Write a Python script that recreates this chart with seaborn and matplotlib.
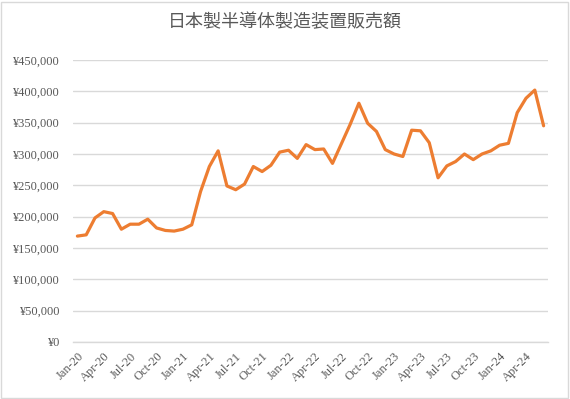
import matplotlib
matplotlib.use("Agg")
import matplotlib.pyplot as plt
import seaborn as sns
import pandas as pd
from matplotlib.ticker import FuncFormatter, FixedLocator
from matplotlib.patches import Rectangle

months = ["Jan", "Feb", "Mar", "Apr", "May", "Jun", "Jul", "Aug", "Sep", "Oct", "Nov", "Dec"]
years = ["20", "21", "22", "23", "24"]
categories = [f"{m}-{y}" for y in years for m in months][:54]

sales = [169000, 171000, 198000, 208000, 205000, 180000, 188000, 188000, 196000, 182000,
         178000, 177000, 180000, 187000, 240000, 280000, 305000, 249000, 243000, 252000,
         280000, 272000, 282000, 303000, 306000, 293000, 315000, 307000, 308000, 285000,
         316000, 347000, 381000, 349000, 336000, 307000, 300000, 296000, 338000, 337000,
         318000, 262000, 281000, 288000, 300000, 291000, 300000, 305000, 314000, 317000,
         366000, 389000, 402000, 345000]

title = "日本製半導体製造装置販売額"

df = pd.DataFrame({"idx": range(len(categories)), "month": categories, "sales": sales})

sns.set_style("white")
plt.rcParams["font.family"] = ["Liberation Serif", "DejaVu Sans"]

fig = plt.figure(figsize=(5.7, 3.99), dpi=100)
ax = fig.add_axes([73 / 570, 57 / 399, 475 / 570, 282 / 399])

sns.lineplot(data=df, x="idx", y="sales", ax=ax, color="#ED7D31", linewidth=2.3)

ax.set_xlim(-0.5, len(categories) - 0.5)
ax.set_ylim(0, 450000)
ax.set_yticks(range(0, 450001, 50000))
ax.yaxis.set_major_formatter(FuncFormatter(lambda v, p: f"¥{int(v):,}"))
ax.grid(axis="y", color="#d9d9d9", linewidth=1)
ax.set_axisbelow(True)

label_pos = list(range(0, len(categories), 3))
ax.set_xticks(label_pos)
ax.set_xticklabels([categories[i] for i in label_pos], rotation=45, ha="right",
                   rotation_mode="anchor")
ax.xaxis.set_minor_locator(FixedLocator([i - 0.5 for i in label_pos]))
ax.tick_params(axis="x", which="major", length=0, pad=6, labelsize=9, labelcolor="#595959")
ax.tick_params(axis="x", which="minor", length=4, width=1, color="#d9d9d9", direction="out")
ax.tick_params(axis="y", length=0, pad=10, labelsize=9, labelcolor="#595959")

for s in ["top", "right", "left"]:
    ax.spines[s].set_visible(False)
ax.spines["bottom"].set_color("#d9d9d9")
ax.spines["bottom"].set_linewidth(1)

ax.set_xlabel("")
ax.set_ylabel("")

fig.text(0.5, 1 - 22 / 399, title, ha="center", va="center", fontsize=13,
         color="#595959", family=["Noto Sans CJK JP", "DejaVu Sans"])

fig.patches.append(Rectangle((1 / 570, 1 / 399), 567 / 570, 396 / 399, transform=fig.transFigure,
                             fill=False, edgecolor="#d9d9d9", linewidth=1))

fig.savefig("out.png", dpi=100)
